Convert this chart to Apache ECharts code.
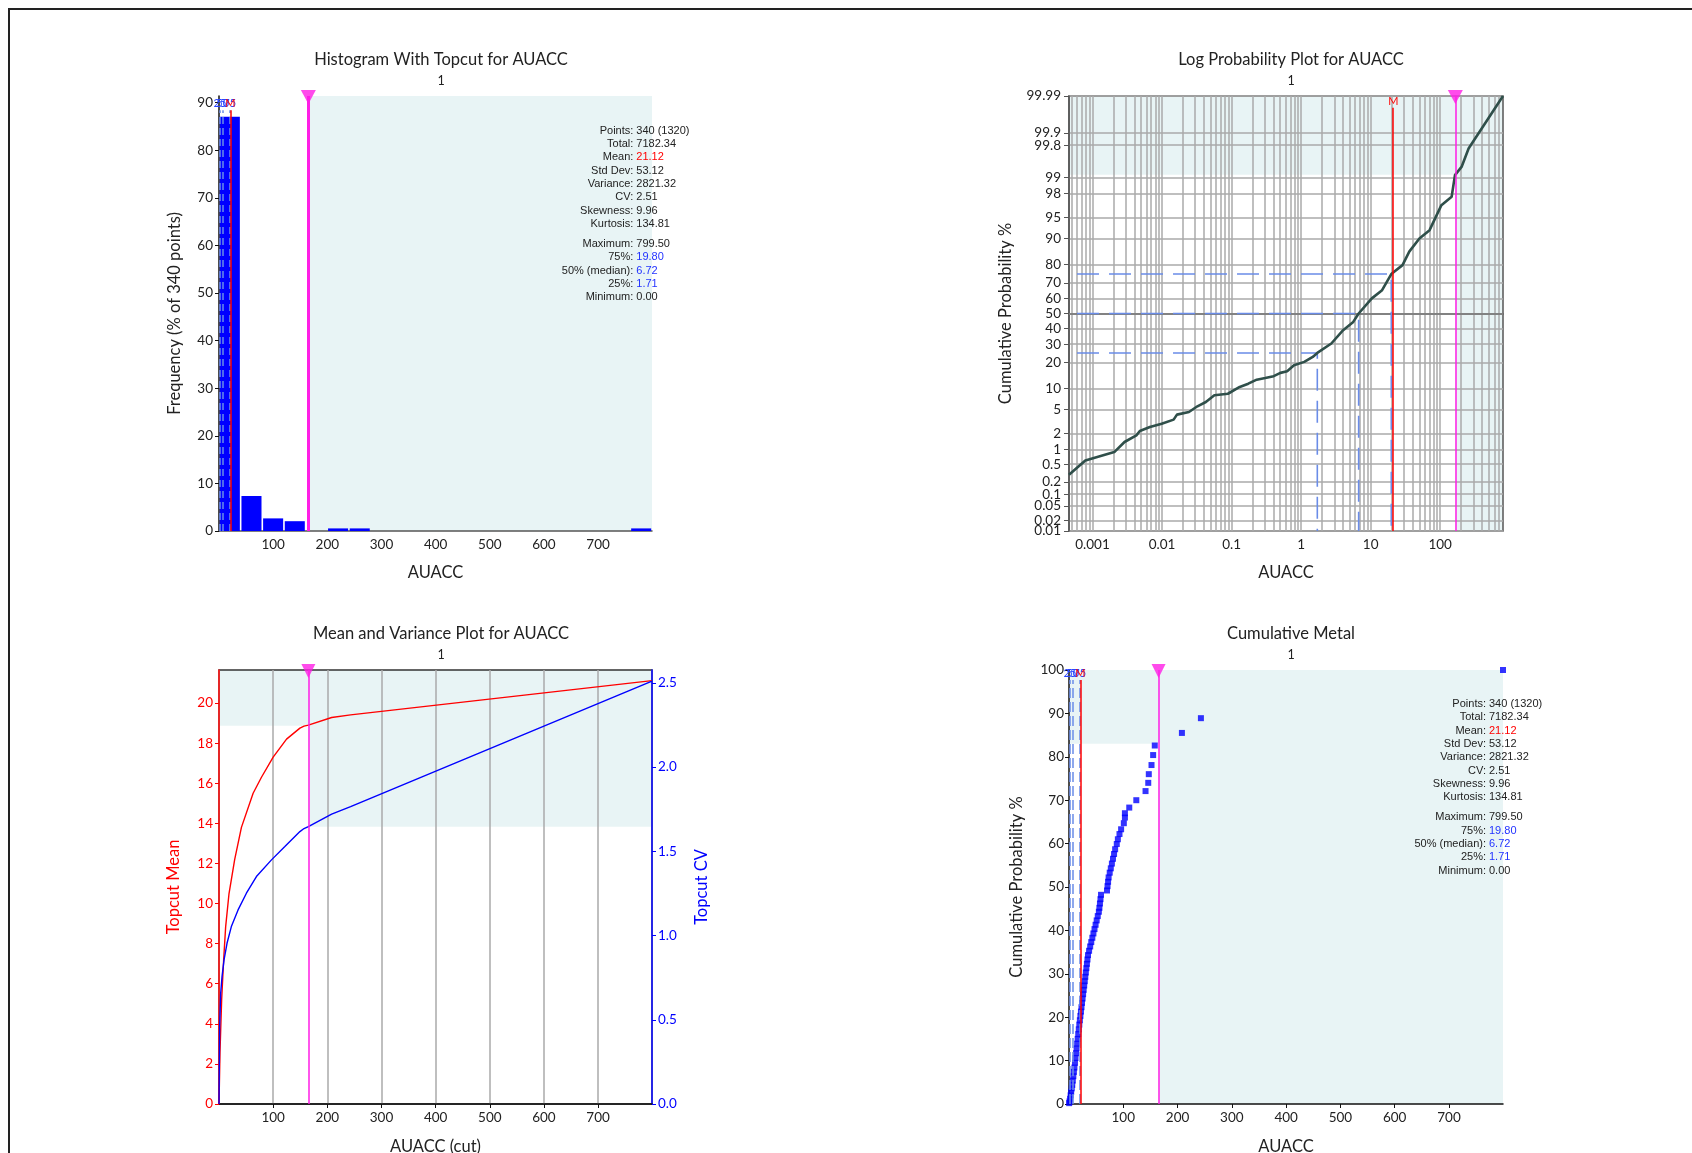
<!DOCTYPE html>
<html><head><meta charset="utf-8">
<script src="https://cdn.jsdelivr.net/npm/echarts@6/dist/echarts.min.js"></script>
<style>html,body{margin:0;padding:0;background:#fff}#c{width:1692px;height:1153px}</style>
</head><body><div id="c"></div>
<script>
// ================= DATA =================
const topcut = 165;
const maxValue = 799.5;
const meanValue = 21.12;
const quartileValues = [1.71, 6.72, 19.80];
const quartileLabels = ['25', '50', '75'];

// Histogram (20 bins of width 39.975)
const histBinWidth = 39.975;
const histBinStart = [0, 39.975, 79.95, 119.925, 159.9, 199.875, 239.85, 279.825, 319.8, 359.775,
  399.75, 439.725, 479.7, 519.675, 559.65, 599.625, 639.6, 679.575, 719.55, 759.525];
const histPercent = [87.06, 7.35, 2.65, 2.06, 0, 0.29, 0.29, 0, 0, 0, 0, 0, 0, 0, 0, 0, 0, 0, 0, 0.29];
const histYMax = 91.4;

// Log probability plot: value vs cumulative probability %
const probValue = [0.00046, 0.00079, 0.00206, 0.00289, 0.00428, 0.0048, 0.0067, 0.0099, 0.0147, 0.0164,
  0.0244, 0.0323, 0.0427, 0.0566, 0.0886, 0.131, 0.174, 0.23, 0.305, 0.403, 0.505, 0.63, 0.79, 1.11,
  1.47, 1.71, 2.72, 4.02, 5.62, 6.72, 10.4, 14.6, 19.8, 28.7, 35.9, 50.2, 70.3, 104, 146, 163, 204, 256, 799.5];
const probPercent = [0.29, 0.6, 0.89, 1.4, 1.86, 2.23, 2.62, 2.98, 3.48, 4.19,
  4.61, 5.63, 6.51, 8.1, 8.5, 10.46, 11.5, 12.9, 13.5, 14.2, 15.5, 16.2, 18.8, 20.4,
  22.9, 25, 30.4, 38.8, 44.3, 50, 60.2, 65.5, 75, 79.6, 85.5, 90, 92.3, 96.8, 97.7, 99.1, 99.4, 99.76, 99.99];
// tick list (50 first so the 0.01 / 0.02 pair is not treated as the first two labels)
const probTickPercent = [50, 0.01, 0.02, 0.05, 0.1, 0.2, 0.5, 1, 2, 5, 10, 20, 30, 40, 60, 70, 80, 90, 95, 98, 99, 99.8, 99.9, 99.99];
const probTickLabels = ['50', '0.01', '0.02', '0.05', '0.1', '0.2', '0.5', '1', '2', '5', '10', '20', '30', '40', '60', '70', '80', '90', '95', '98', '99', '99.8', '99.9', '99.99'];
const probXMin = 0.00046;
const probXLabels = [0.001, 0.01, 0.1, 1, 10, 100];
const probXGrid = [0.0005, 0.0006, 0.0007, 0.0008, 0.0009,
  0.001, 0.002, 0.003, 0.004, 0.005, 0.006, 0.007, 0.008, 0.009,
  0.01, 0.02, 0.03, 0.04, 0.05, 0.06, 0.07, 0.08, 0.09,
  0.1, 0.2, 0.3, 0.4, 0.5, 0.6, 0.7, 0.8, 0.9,
  1, 2, 3, 4, 5, 6, 7, 8, 9,
  10, 20, 30, 40, 50, 60, 70, 80, 90,
  100, 200, 300, 400, 500, 600, 700];
const probTopShadePercent = 99.12;
const probQuartilePercent = [25, 50, 75];
const probDashStart = 0.0006;

// Mean and variance plot
const meanCut = [0, 1.85, 4.9, 8.6, 12.3, 18.5, 29, 41.4, 63, 78.4, 100, 124.7, 149.4, 157, 165, 208, 243, 799.5];
const meanVal = [0, 2.6, 5.2, 7.2, 8.85, 10.5, 12.2, 13.8, 15.5, 16.3, 17.3, 18.2, 18.75, 18.85, 18.9, 19.28, 19.41, 21.12];
const cvCut = [0, 1.2, 3.1, 5.6, 9.3, 14.8, 22.8, 35.2, 50.6, 69.1, 96.9, 121.6, 149.4, 157, 165, 208, 243, 799.5];
const cvVal = [0, 0.46, 0.657, 0.756, 0.855, 0.954, 1.053, 1.152, 1.251, 1.35, 1.449, 1.528, 1.617, 1.635, 1.647, 1.72, 1.765, 2.51];
const meanAtTopcut = 18.87;
const cvAtTopcut = 1.646;
const mvMeanMax = 21.65;
const mvCvMax = 2.576;

// Cumulative metal: [value, cumulative metal %]
const cumValue = [0.3, 1, 2, 3, 4, 5, 6, 7, 8, 9, 10, 11, 12, 13, 14, 15, 16, 17, 18, 19, 20, 21, 22, 23, 24, 25,
  26, 27, 28, 29, 30, 31, 32, 33, 34, 35, 37, 39, 41, 43, 45, 47, 49, 51, 53, 55, 56, 57, 58, 59,
  70, 71, 72, 73, 75, 77, 79, 81, 83, 85, 88, 90, 93, 96, 101, 103, 103, 111, 124, 141, 146, 147, 152, 155, 158, 208, 243, 799.5];
const cumPercent = [0.2, 0.6, 1.2, 2, 2.8, 3.6, 4.4, 5.4, 6.4, 7.4, 8.4, 9.5, 10.6, 11.7, 12.8, 13.9, 15, 16.1, 17.2, 18.3, 19.3, 20.3, 21.3, 22.3, 23.3, 24.3,
  25.3, 26.3, 27.3, 28.3, 29.3, 30.3, 31.3, 32.3, 33.3, 34.3, 35.3, 36.3, 37.3, 38.3, 39.3, 40.3, 41.3, 42.3, 43.3, 44.3, 45.2, 46.2, 47.2, 48.2,
  49.2, 50.2, 51.2, 52.2, 53.3, 54.3, 55.4, 56.5, 57.6, 58.7, 59.9, 61, 62.2, 63.3, 64.7, 66, 67, 68.3, 70, 72.1, 74, 76, 78.1, 80.4, 82.6, 85.5, 88.9, 100];
const cumTopShade = 83;

// Statistics text
const statLabels = ['Points:', 'Total:', 'Mean:', 'Std Dev:', 'Variance:', 'CV:', 'Skewness:', 'Kurtosis:',
  'Maximum:', '75%:', '50% (median):', '25%:', 'Minimum:'];
const statValues = ['340 (1320)', '7182.34', '21.12', '53.12', '2821.32', '2.51', '9.96', '134.81',
  '799.50', '19.80', '6.72', '1.71', '0.00'];
const statColors = ['#222', '#222', '#ff0000', '#222', '#222', '#222', '#222', '#222',
  '#222', '#2233ff', '#2233ff', '#2233ff', '#222'];

// ================= HELPERS =================
function normInv(p) {
  const a = [-3.969683028665376e+01, 2.209460984245205e+02, -2.759285104469687e+02, 1.383577518672690e+02, -3.066479806614716e+01, 2.506628277459239e+00];
  const b = [-5.447609879822406e+01, 1.615858368580409e+02, -1.556989798598866e+02, 6.680131188771972e+01, -1.328068155288572e+01];
  const c = [-7.784894002430293e-03, -3.223964580411365e-01, -2.400758277161838e+00, -2.549732539343734e+00, 4.374664141464968e+00, 2.938163982698783e+00];
  const d = [7.784695709041462e-03, 3.224671290700398e-01, 2.445134137142996e+00, 3.754408661907416e+00];
  const pl = 0.02425, ph = 1 - pl;
  let q, r;
  if (p < pl) { q = Math.sqrt(-2 * Math.log(p)); return (((((c[0]*q+c[1])*q+c[2])*q+c[3])*q+c[4])*q+c[5]) / ((((d[0]*q+d[1])*q+d[2])*q+d[3])*q+1); }
  if (p <= ph) { q = p - 0.5; r = q*q; return (((((a[0]*r+a[1])*r+a[2])*r+a[3])*r+a[4])*r+a[5])*q / (((((b[0]*r+b[1])*r+b[2])*r+b[3])*r+b[4])*r+1); }
  q = Math.sqrt(-2 * Math.log(1 - p));
  return -(((((c[0]*q+c[1])*q+c[2])*q+c[3])*q+c[4])*q+c[5]) / ((((d[0]*q+d[1])*q+d[2])*q+d[3])*q+1);
}
const zOf = pct => normInv(pct / 100);
const zTop = zOf(99.99) + 1e-6, zBot = zOf(0.01) - 1e-6;
const probTickZ = probTickPercent.map(zOf);

const FONT = 'Lato, "Open Sans", sans-serif';
const STATFONT = '11px "Liberation Sans", Arial, sans-serif';
const SHADE = '#e8f4f5';
const MAGENTA = '#ff1ee6';
const QBLUE = '#6a8ce8';
const GRIDGRAY = '#aaaaaa';

function statGraphics(colonX, firstY) {
  const els = [];
  statLabels.forEach((lab, i) => {
    const y = firstY + (i < 8 ? i * 13.33 : 113.3 + (i - 8) * 13.33);
    els.push({ type: 'text', x: colonX, y: y, silent: true,
      style: { text: lab, textAlign: 'right', textVerticalAlign: 'middle', verticalAlign: 'middle', font: STATFONT, fill: '#222' } });
    els.push({ type: 'text', x: colonX + 3, y: y, silent: true,
      style: { text: statValues[i], textAlign: 'left', textVerticalAlign: 'middle', verticalAlign: 'middle', font: STATFONT, fill: statColors[i] } });
  });
  return els;
}

function triangle(xi, yi, x, y, size) {
  return {
    type: 'scatter', xAxisIndex: xi, yAxisIndex: yi, data: [[x, y]], symbol: 'triangle',
    symbolRotate: 180, symbolSize: size, symbolOffset: [0, 1], clip: false, silent: true, z: 6,
    itemStyle: { color: MAGENTA }
  };
}

function quartileMarkLines(labelLevel, dash) {
  const data = quartileValues.map((v, i) => [
    { coord: [v, 0], lineStyle: { color: QBLUE, type: dash, width: 1.5 } },
    { coord: [v, labelLevel], label: { show: true, position: 'end', distance: 1, formatter: quartileLabels[i], color: '#2a45ff', fontSize: 11, fontFamily: FONT } }
  ]);
  data.push([
    { coord: [meanValue, 0], lineStyle: { color: '#ff0000', type: 'solid', width: 1.5 } },
    { coord: [meanValue, labelLevel], label: { show: true, position: 'end', distance: 1, formatter: 'M', color: '#ff0000', fontSize: 11, fontFamily: FONT } }
  ]);
  return data;
}

const axisLabelStyle = { color: '#222', fontSize: 13.5, fontFamily: FONT };
const nameStyle = { color: '#222', fontSize: 16.5, fontFamily: FONT };
const titleStyle = { fontSize: 16.5, fontWeight: 'normal', color: '#222', fontFamily: FONT };
const subStyle = { fontSize: 12.5, fontWeight: 'normal', color: '#222', fontFamily: FONT };

// ================= CHART =================
const chart = echarts.init(document.getElementById('c'), null, { renderer: 'canvas' });

const option = {
  animation: false,
  backgroundColor: '#ffffff',
  title: [
    { text: 'Histogram With Topcut for AUACC', left: 436, top: 46, textAlign: 'center', textStyle: titleStyle },
    { text: '1', left: 436, top: 69, textAlign: 'center', textStyle: subStyle },
    { text: 'Log Probability Plot for AUACC', left: 1286, top: 46, textAlign: 'center', textStyle: titleStyle },
    { text: '1', left: 1286, top: 69, textAlign: 'center', textStyle: subStyle },
    { text: 'Mean and Variance Plot for AUACC', left: 436, top: 620, textAlign: 'center', textStyle: titleStyle },
    { text: '1', left: 436, top: 643, textAlign: 'center', textStyle: subStyle },
    { text: 'Cumulative Metal', left: 1286, top: 620, textAlign: 'center', textStyle: titleStyle },
    { text: '1', left: 1286, top: 643, textAlign: 'center', textStyle: subStyle }
  ],
  grid: [
    { left: 219, top: 96, width: 433, height: 435, outerBoundsMode: 'none' },
    { left: 1069, top: 96, width: 434, height: 435, show: true, borderColor: '#555', borderWidth: 1.5, outerBoundsMode: 'none' },
    { left: 219, top: 670, width: 433, height: 434, show: true, borderColor: '#333', borderWidth: 1.5, outerBoundsMode: 'none' },
    { left: 1069, top: 670, width: 434, height: 434, outerBoundsMode: 'none' }
  ],
  xAxis: [
    { gridIndex: 0, type: 'value', min: 0, max: maxValue, interval: 100,
      name: 'AUACC', nameLocation: 'middle', nameGap: 33.5, nameTextStyle: nameStyle,
      axisLine: { show: true, lineStyle: { color: '#555', width: 1.5 } }, axisTick: { show: false },
      axisLabel: Object.assign({ margin: 7, showMinLabel: false, showMaxLabel: false }, axisLabelStyle),
      splitLine: { show: false } },
    { gridIndex: 1, type: 'log', logBase: 10, min: probXMin, max: maxValue,
      name: 'AUACC', nameLocation: 'middle', nameGap: 33.5, nameTextStyle: nameStyle,
      axisLine: { show: true, lineStyle: { color: '#555', width: 1.5 } },
      axisTick: { show: false, customValues: probXGrid },
      axisLabel: Object.assign({ margin: 7, customValues: probXLabels,
        formatter: v => (v >= 1 ? String(Math.round(v)) : String(+Number(v).toPrecision(1))) }, axisLabelStyle),
      splitLine: { show: true, lineStyle: { color: GRIDGRAY, width: 1.5 } },
      minorSplitLine: { show: false } },
    { gridIndex: 2, type: 'value', min: 0, max: maxValue, interval: 100,
      name: 'AUACC (cut)', nameLocation: 'middle', nameGap: 34, nameTextStyle: nameStyle,
      axisLine: { show: true, lineStyle: { color: '#111', width: 1.5 } },
      axisTick: { show: true, length: 4, lineStyle: { color: '#111' } },
      axisLabel: Object.assign({ margin: 7, showMinLabel: false, showMaxLabel: false }, axisLabelStyle),
      splitLine: { show: true, lineStyle: { color: GRIDGRAY, width: 1.5 } } },
    { gridIndex: 3, type: 'value', min: 0, max: maxValue, interval: 100,
      name: 'AUACC', nameLocation: 'middle', nameGap: 34, nameTextStyle: nameStyle,
      axisLine: { show: true, lineStyle: { color: '#111', width: 1.5 } },
      axisTick: { show: true, length: 4, lineStyle: { color: '#111' } },
      axisLabel: Object.assign({ margin: 7, showMinLabel: false, showMaxLabel: false }, axisLabelStyle),
      splitLine: { show: false } }
  ],
  yAxis: [
    { gridIndex: 0, type: 'value', min: 0, max: histYMax, interval: 10,
      name: 'Frequency (% of 340 points)', nameLocation: 'middle', nameGap: 36, nameRotate: 90, nameTextStyle: nameStyle,
      axisLine: { show: true, lineStyle: { color: '#111', width: 1.5 } },
      axisTick: { show: true, length: 4, lineStyle: { color: '#111' } },
      axisLabel: Object.assign({ margin: 6, showMaxLabel: false }, axisLabelStyle),
      splitLine: { show: false } },
    { gridIndex: 1, type: 'value', min: zBot, max: zTop,
      name: 'Cumulative Probability %', nameLocation: 'middle', nameGap: 55, nameRotate: 90, nameTextStyle: nameStyle,
      axisLine: { show: true, lineStyle: { color: '#555', width: 1.5 } },
      axisTick: { show: true, length: 5, customValues: probTickZ, lineStyle: { color: '#555' } },
      axisLabel: Object.assign({ margin: 8, customValues: probTickZ, showMinLabel: true, showMaxLabel: true, hideOverlap: false,
        formatter: v => { let bi = 0, bd = 1e9; probTickZ.forEach((z, i) => { const d = Math.abs(z - v); if (d < bd) { bd = d; bi = i; } }); return probTickLabels[bi]; } },
        axisLabelStyle),
      splitLine: { show: true, lineStyle: { color: GRIDGRAY, width: 1.5 } } },
    { gridIndex: 2, type: 'value', min: 0, max: mvMeanMax, interval: 2, position: 'left',
      name: 'Topcut Mean', nameLocation: 'middle', nameGap: 37, nameRotate: 90, nameTextStyle: Object.assign({}, nameStyle, { color: '#ff0000' }),
      axisLine: { show: true, lineStyle: { color: '#ff0000', width: 1.5 } },
      axisTick: { show: true, length: 4, lineStyle: { color: '#ff0000' } },
      axisLabel: Object.assign({}, axisLabelStyle, { margin: 6, color: '#ff0000', showMaxLabel: false }),
      splitLine: { show: false } },
    { gridIndex: 2, type: 'value', min: 0, max: mvCvMax, interval: 0.5, position: 'right',
      name: 'Topcut CV', nameLocation: 'middle', nameGap: 41, nameRotate: 90, nameTextStyle: Object.assign({}, nameStyle, { color: '#0000ff' }),
      axisLine: { show: true, lineStyle: { color: '#0000ff', width: 1.5 } },
      axisTick: { show: true, length: 4, lineStyle: { color: '#0000ff' } },
      axisLabel: Object.assign({}, axisLabelStyle, { margin: 6, color: '#0000ff', showMaxLabel: false, formatter: v => v.toFixed(1) }),
      splitLine: { show: false } },
    { gridIndex: 3, type: 'value', min: 0, max: 100, interval: 10,
      name: 'Cumulative Probability %', nameLocation: 'middle', nameGap: 44, nameRotate: 90, nameTextStyle: nameStyle,
      axisLine: { show: true, lineStyle: { color: '#111', width: 1.5 } },
      axisTick: { show: true, length: 4, lineStyle: { color: '#111' } },
      axisLabel: Object.assign({ margin: 5 }, axisLabelStyle),
      splitLine: { show: false } }
  ],
  series: [
    // ---- Histogram bars ----
    { type: 'custom', xAxisIndex: 0, yAxisIndex: 0, silent: true, z: 2,
      data: histBinStart.map((s, i) => [s, s + histBinWidth, histPercent[i]]),
      renderItem: (params, api) => {
        const h = api.value(2);
        if (!(h > 0)) return null;
        const p0 = api.coord([api.value(0), h]);
        const p1 = api.coord([api.value(1), 0]);
        let top = p0[1];
        if (p1[1] - top < 2.6) top = p1[1] - 2.6;
        return { type: 'rect', shape: { x: p0[0] + 0.8, y: top, width: p1[0] - p0[0] - 1.6, height: p1[1] - top }, style: { fill: '#0000ff' } };
      }
    },
    Object.assign(triangle(0, 0, topcut, histYMax, [15, 14]), {
      markArea: { silent: true, z: -1, itemStyle: { color: SHADE, opacity: 1 }, data: [[{ xAxis: topcut }, { xAxis: maxValue }]] },
      markLine: { silent: true, symbol: 'none', z: 5, label: { show: false },
        data: quartileMarkLines(88.4, [7, 4]).concat([[{ coord: [topcut, 0], lineStyle: { color: MAGENTA, width: 3, type: 'solid' } }, { coord: [topcut, histYMax] }]]) }
    }),
    // ---- Log probability ----
    { type: 'line', xAxisIndex: 1, yAxisIndex: 1, silent: true, z: 3, showSymbol: false, symbol: 'none',
      data: probValue.map((v, i) => [v, zOf(probPercent[i])]),
      lineStyle: { color: '#2f4f4a', width: 2.6 },
      markArea: { silent: true, z: -1, itemStyle: { color: SHADE, opacity: 1 },
        data: [[{ yAxis: zOf(probTopShadePercent) }, { yAxis: zTop }], [{ xAxis: topcut }, { xAxis: maxValue }]] },
      markLine: { silent: true, symbol: 'none', z: 1, label: { show: false },
        data: [[{ coord: [probXMin, 0], lineStyle: { color: '#888', width: 1.5, type: 'solid' } }, { coord: [maxValue, 0] }]] }
    },
    ...probQuartilePercent.map((pc, i) => ({
      type: 'line', xAxisIndex: 1, yAxisIndex: 1, silent: true, z: 2, showSymbol: false, symbol: 'none',
      data: [[probDashStart, zOf(pc)], [quartileValues[i], zOf(pc)], [quartileValues[i], zBot]],
      lineStyle: { color: QBLUE, width: 1.6, type: [22, 10] }
    })),
    Object.assign(triangle(1, 1, topcut, zTop, [15, 14]), {
      markLine: { silent: true, symbol: 'none', z: 4, label: { show: false },
        data: [
          [{ coord: [meanValue, zBot], lineStyle: { color: '#ff0000', width: 1.5, type: 'solid' } },
           { coord: [meanValue, 3.516], label: { show: true, position: 'end', distance: 1, formatter: 'M', color: '#ff0000', fontSize: 11, fontFamily: FONT } }],
          [{ coord: [topcut, zBot], lineStyle: { color: MAGENTA, width: 1.5, type: 'solid' } }, { coord: [topcut, zTop] }]
        ] }
    }),
    // ---- Mean and variance ----
    { type: 'line', xAxisIndex: 2, yAxisIndex: 2, silent: true, z: 3, showSymbol: false, symbol: 'none',
      data: meanCut.map((x, i) => [x, meanVal[i]]),
      lineStyle: { color: '#ff0000', width: 1.4 },
      markArea: { silent: true, z: -1, itemStyle: { color: SHADE, opacity: 1 }, data: [[{ yAxis: meanAtTopcut }, { yAxis: mvMeanMax }]] }
    },
    { type: 'line', xAxisIndex: 2, yAxisIndex: 3, silent: true, z: 3, showSymbol: false, symbol: 'none',
      data: cvCut.map((x, i) => [x, cvVal[i]]),
      lineStyle: { color: '#0000ff', width: 1.4 },
      markArea: { silent: true, z: -1, itemStyle: { color: SHADE, opacity: 1 }, data: [[{ xAxis: topcut, yAxis: cvAtTopcut }, { xAxis: maxValue, yAxis: mvCvMax }]] }
    },
    Object.assign(triangle(2, 2, topcut, mvMeanMax, [14, 14]), {
      markLine: { silent: true, symbol: 'none', z: 4, label: { show: false },
        data: [[{ coord: [topcut, 0], lineStyle: { color: MAGENTA, width: 1.5, type: 'solid' } }, { coord: [topcut, mvMeanMax] }]] }
    }),
    // ---- Cumulative metal ----
    { type: 'scatter', xAxisIndex: 3, yAxisIndex: 4, silent: true, z: 3, symbol: 'rect', symbolSize: 6, clip: true,
      data: cumValue.map((x, i) => [x, cumPercent[i]]),
      itemStyle: { color: '#0000ff' },
      markArea: { silent: true, z: -1, itemStyle: { color: SHADE, opacity: 1 },
        data: [[{ yAxis: cumTopShade }, { yAxis: 100 }], [{ xAxis: topcut }, { xAxis: maxValue }]] }
    },
    Object.assign(triangle(3, 4, topcut, 100, [14, 14]), {
      markLine: { silent: true, symbol: 'none', z: 4, label: { show: false },
        data: quartileMarkLines(97.7, [10, 4]).concat([[{ coord: [topcut, 0], lineStyle: { color: MAGENTA, width: 1.5, type: 'solid' } }, { coord: [topcut, 100] }]]) }
    })
  ],
  graphic: [
    { type: 'rect', silent: true, z: 10, shape: { x: 9, y: 9, width: 1800, height: 1300 }, style: { fill: 'none', stroke: '#222', lineWidth: 2 } },
    ...statGraphics(633.3, 130.7),
    ...statGraphics(1486, 704)
  ]
};
chart.setOption(option);
</script>
</body></html>
